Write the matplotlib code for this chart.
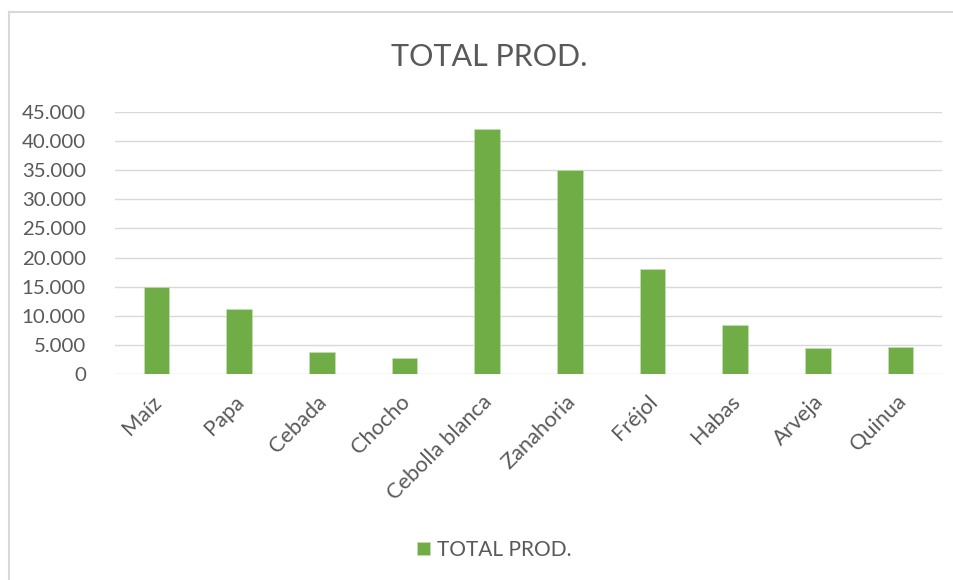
import matplotlib.pyplot as plt
from matplotlib.ticker import FuncFormatter
from matplotlib.lines import Line2D
from matplotlib.transforms import ScaledTranslation

# datos
cultivos = ['Maíz', 'Papa', 'Cebada', 'Chocho', 'Cebolla blanca',
            'Zanahoria', 'Fréjol', 'Habas', 'Arveja', 'Quinua']
total_prod = [15000, 11250, 3770, 2740, 42030, 35000, 18050, 8400, 4450, 4690]
serie = 'TOTAL PROD.'

verde = '#70ad47'
gris_texto = '#595959'
gris_linea = '#d9d9d9'

plt.rcParams['font.family'] = ['Lato', 'DejaVu Sans']

fig = plt.figure(figsize=(9.54, 5.8), dpi=100)
# marco del grafico (solo se ve arriba y a la izquierda)
yb = 1 - 12 / 580
xb = 9 / 954
fig.add_artist(Line2D([xb, xb], [0, yb], transform=fig.transFigure, color=gris_linea, lw=1.5))
fig.add_artist(Line2D([xb, 1], [yb, yb], transform=fig.transFigure, color=gris_linea, lw=1.5))

ax = fig.add_axes([115 / 954, 1 - 374.3 / 580, (942 - 115) / 954, (374.3 - 111.7) / 580])
x = list(range(len(cultivos)))
ax.bar(x, total_prod, width=0.31, color=verde, edgecolor='#c5e0b4', linewidth=0.5,
       label=serie, zorder=3)

ax.set_xlim(-0.5, len(cultivos) - 0.5)
ax.set_ylim(0, 45000)
ax.set_yticks(range(0, 45001, 5000))
ax.yaxis.set_major_formatter(FuncFormatter(lambda v, p: f'{int(v):,}'.replace(',', '.')))
ax.grid(axis='y', color=gris_linea, linewidth=1, zorder=0)
ax.set_axisbelow(True)
for s in ax.spines.values():
    s.set_visible(False)
ax.tick_params(axis='both', length=0, colors=gris_texto)
ax.tick_params(axis='y', pad=21, labelsize=14.7)
ax.set_xticks(x)
ax.set_xticklabels(cultivos, rotation=45, ha='right', rotation_mode='anchor')
ax.tick_params(axis='x', pad=6, labelsize=15.7)
desplaza = ScaledTranslation(-5 / 100, -9 / 100, fig.dpi_scale_trans)
for lab in ax.get_xticklabels():
    lab.set_transform(lab.get_transform() + desplaza)

fig.text(0.513, 1 - 57 / 580, 'TOTAL PROD.', ha='center', va='center',
         fontsize=22, color=gris_texto)

fig.legend(loc='center', bbox_to_anchor=(0.518, 1 - 550 / 580), frameon=False,
           fontsize=15, labelcolor=gris_texto, handlelength=0.6, handleheight=0.6,
           handletextpad=0.35)

fig.savefig('out.png', dpi=100)
